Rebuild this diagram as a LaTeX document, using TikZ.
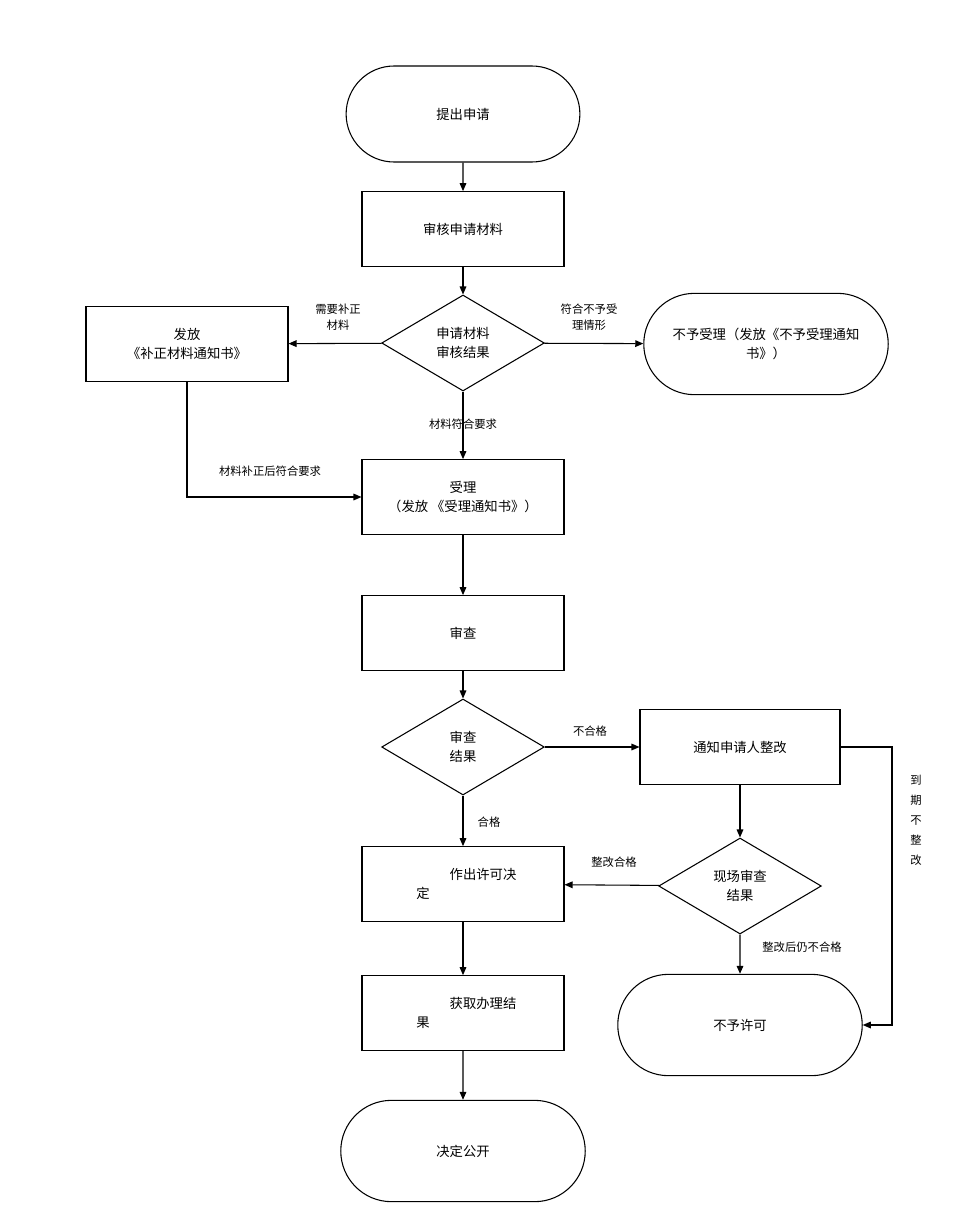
\documentclass[tikz,border=0pt]{standalone}
\usepackage{fontspec}
\setmainfont{Noto Sans CJK SC}
\usetikzlibrary{shapes.geometric,arrows.meta}
\begin{document}
\begin{tikzpicture}[x=0.75pt,y=-0.75pt,
  box/.style={draw,thick,minimum width=151.5pt,minimum height=56pt,align=center,font=\fontsize{10}{14}\selectfont},
  term/.style={draw,thick,rounded rectangle,minimum width=182pt,minimum height=72pt,align=center,font=\fontsize{10}{14}\selectfont},
  dia/.style={draw,thick,diamond,aspect=1.7,minimum width=122pt,minimum height=72pt,inner sep=0pt,align=center,font=\fontsize{10}{14}\selectfont},
  lab/.style={font=\fontsize{8.5}{12}\selectfont,align=center},
  arr/.style={-{Triangle[length=6pt,width=5pt]},thick}]
\useasboundingbox (0,0) rectangle (956,1206);
\tikzset{every node/.append style={}}
\usetikzlibrary{shapes.misc}
\node[term] (start) at (463,114) {提出申请};
\node[box] (check) at (463,229) {审核申请材料};
\node[dia] (d1) at (463,343) {申请材料\\审核结果};
\node[box] (fix) at (187,344) {发放\\《补正材料通知书》};
\node[term,minimum width=190pt,minimum height=76pt] (rej) at (766,344) {不予受理（发放《不予受理通知\\书》）};
\node[box] (acc) at (463,497) {受理\\（发放 《受理通知书》）};
\node[box] (rev) at (463,633) {审查};
\node[dia] (d2) at (463,747) {审查\\结果};
\node[box,minimum width=150pt] (notify) at (740,747) {通知申请人整改};
\node[box] (dec) at (463,884) {\hspace*{3em}作出许可决\\定\hspace*{6em}};
\node[dia] (d3) at (740,886) {现场审查\\结果};
\node[term,minimum width=190pt,minimum height=76pt] (deny) at (740,1025) {不予许可};
\node[box] (get) at (463,1013) {\hspace*{3em}获取办理结\\果\hspace*{6em}};
\node[term,minimum width=190pt,minimum height=76pt] (pub) at (463,1151) {决定公开};
\draw[arr] (start) -- (check);
\draw[arr] (check) -- (d1);
\draw[arr] (d1) -- (fix);
\draw[arr] (d1) -- (rej);
\draw[arr] (d1) -- (acc);
\draw[arr] (fix.south) |- (acc.west);
\draw[arr] (acc) -- (rev);
\draw[arr] (rev) -- (d2);
\draw[arr] (d2) -- (notify);
\draw[arr] (d2) -- (dec);
\draw[arr] (notify) -- (d3);
\draw[arr] (d3) -- (dec);
\draw[arr] (d3) -- (deny);
\coordinate (c1) at (892,747);
\coordinate (c2) at (892,1025);
\draw[arr] (notify.east) -- (c1) -- (c2) -- (deny.east);
\draw[arr] (dec) -- (get);
\draw[arr] (get) -- (pub);
\node[lab] at (338,317) {需要补正\\材料};
\node[lab] at (589,317) {符合不予受\\理情形};
\node[lab] at (463,424) {材料符合要求};
\node[lab] at (270,471) {材料补正后符合要求};
\node[lab] at (590,731) {不合格};
\node[lab] at (489,822) {合格};
\node[lab] at (614,862) {整改合格};
\node[lab] at (802,947) {整改后仍不合格};
\node[lab,font=\fontsize{8.5}{15}\selectfont] at (916,820) {到\\期\\不\\整\\改};
\end{tikzpicture}
\end{document}
